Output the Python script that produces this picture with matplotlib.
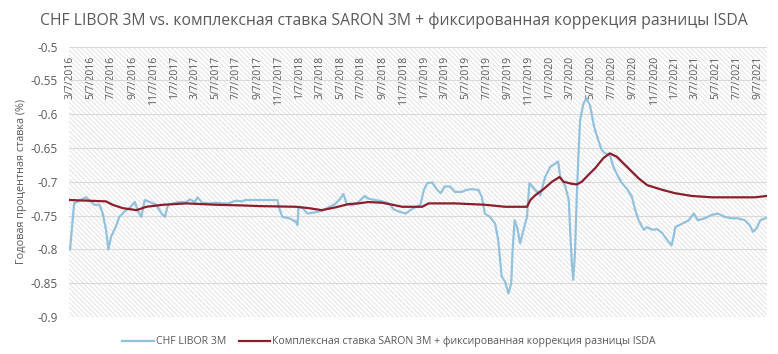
import pandas as pd
import matplotlib
matplotlib.use('Agg')
from matplotlib import pyplot as plt
from matplotlib.patches import Rectangle

# CHF LIBOR 3M
libor_dates = ['2016-03-08', '2016-03-20', '2016-04-24', '2016-05-18', '2016-06-02', '2016-06-11',
               '2016-06-21', '2016-06-28', '2016-07-06', '2016-07-20', '2016-07-30', '2016-08-14',
               '2016-08-28', '2016-09-13', '2016-09-23', '2016-10-02', '2016-10-12', '2016-10-27',
               '2016-11-15', '2016-11-30', '2016-12-10', '2016-12-19', '2017-01-03', '2017-01-17',
               '2017-02-11', '2017-02-21', '2017-03-07', '2017-03-15', '2017-03-29', '2017-04-23',
               '2017-05-07', '2017-05-27', '2017-06-13', '2017-07-05', '2017-07-24', '2017-08-02',
               '2017-09-16', '2017-11-04', '2017-11-07', '2017-11-18', '2017-12-08', '2017-12-27',
               '2018-01-01', '2018-01-04', '2018-01-16', '2018-01-30', '2018-02-24', '2018-03-13',
               '2018-04-01', '2018-04-21', '2018-05-06', '2018-05-15', '2018-05-25', '2018-06-09',
               '2018-06-28', '2018-07-16', '2018-07-27', '2018-08-16', '2018-09-05', '2018-09-25',
               '2018-10-09', '2018-10-24', '2018-11-13', '2018-12-02', '2018-12-26', '2019-01-05',
               '2019-01-15', '2019-01-29', '2019-02-13', '2019-02-23', '2019-03-07', '2019-03-22',
               '2019-04-06', '2019-04-25', '2019-05-10', '2019-05-24', '2019-06-13', '2019-06-23',
               '2019-07-02', '2019-07-17', '2019-08-01', '2019-08-10', '2019-08-20', '2019-08-30',
               '2019-09-09', '2019-09-17', '2019-09-21', '2019-09-27', '2019-10-04', '2019-10-13',
               '2019-10-23', '2019-11-02', '2019-11-09', '2019-11-17', '2019-11-26', '2019-12-11',
               '2019-12-25', '2020-01-09', '2020-01-24', '2020-02-01', '2020-02-07', '2020-02-22',
               '2020-03-03', '2020-03-07', '2020-03-12', '2020-03-16', '2020-03-21', '2020-03-26',
               '2020-03-31', '2020-04-05', '2020-04-15', '2020-04-24', '2020-05-04', '2020-05-14',
               '2020-05-19', '2020-05-28', '2020-06-07', '2020-06-17', '2020-07-01', '2020-07-11',
               '2020-07-26', '2020-08-05', '2020-08-19', '2020-09-03', '2020-09-13', '2020-09-23',
               '2020-10-08', '2020-10-18', '2020-11-01', '2020-11-16', '2020-12-01', '2020-12-15',
               '2020-12-28', '2021-01-03', '2021-01-08', '2021-01-28', '2021-02-16', '2021-03-03',
               '2021-03-15', '2021-04-04', '2021-04-24', '2021-05-13', '2021-06-01', '2021-06-21',
               '2021-07-10', '2021-07-30', '2021-08-13', '2021-08-23', '2021-09-02', '2021-09-13',
               '2021-10-02']
libor_values = [-0.800, -0.732, -0.723, -0.734, -0.734, -0.746,
                -0.771, -0.800, -0.781, -0.766, -0.752, -0.744,
                -0.739, -0.730, -0.744, -0.752, -0.727, -0.730,
                -0.734, -0.747, -0.752, -0.734, -0.732, -0.730,
                -0.730, -0.726, -0.730, -0.723, -0.731, -0.732,
                -0.731, -0.732, -0.732, -0.728, -0.729, -0.727,
                -0.727, -0.727, -0.737, -0.752, -0.754, -0.759,
                -0.764, -0.737, -0.739, -0.747, -0.745, -0.743,
                -0.738, -0.733, -0.725, -0.718, -0.733, -0.735,
                -0.730, -0.721, -0.725, -0.727, -0.729, -0.732,
                -0.741, -0.744, -0.747, -0.740, -0.734, -0.712,
                -0.702, -0.701, -0.712, -0.717, -0.707, -0.707,
                -0.715, -0.715, -0.712, -0.711, -0.712, -0.722,
                -0.747, -0.752, -0.762, -0.786, -0.840, -0.848,
                -0.865, -0.850, -0.801, -0.757, -0.767, -0.791,
                -0.771, -0.752, -0.702, -0.707, -0.712, -0.720,
                -0.693, -0.678, -0.673, -0.670, -0.693, -0.707,
                -0.727, -0.771, -0.821, -0.845, -0.806, -0.727,
                -0.663, -0.609, -0.584, -0.577, -0.587, -0.614,
                -0.624, -0.638, -0.653, -0.658, -0.660, -0.678,
                -0.693, -0.702, -0.710, -0.722, -0.742, -0.757,
                -0.771, -0.767, -0.771, -0.770, -0.776, -0.786,
                -0.794, -0.781, -0.767, -0.762, -0.757, -0.747,
                -0.757, -0.754, -0.749, -0.747, -0.752, -0.754,
                -0.754, -0.757, -0.764, -0.774, -0.769, -0.757,
                -0.753]

# SARON 3M compounded + ISDA spread
saron_dates = ['2016-03-07', '2016-06-21', '2016-07-10', '2016-08-09', '2016-09-18', '2016-10-17',
               '2016-12-05', '2017-02-11', '2017-05-07', '2017-07-24', '2017-09-11', '2017-12-27',
               '2018-02-03', '2018-03-13', '2018-04-21', '2018-05-30', '2018-06-28', '2018-07-27',
               '2018-09-05', '2018-10-05', '2018-11-03', '2018-12-31', '2019-01-19', '2019-04-06',
               '2019-07-02', '2019-08-30', '2019-11-02', '2019-11-12', '2019-11-26', '2019-12-20',
               '2020-01-14', '2020-02-05', '2020-02-17', '2020-03-12', '2020-03-26', '2020-04-10',
               '2020-04-29', '2020-05-19', '2020-06-12', '2020-07-01', '2020-07-21', '2020-08-24',
               '2020-09-23', '2020-10-18', '2020-12-01', '2021-01-08', '2021-02-25', '2021-04-24',
               '2021-07-01', '2021-08-28', '2021-10-02']
saron_values = [-0.727, -0.729, -0.734, -0.739, -0.742, -0.737,
                -0.734, -0.732, -0.734, -0.735, -0.736, -0.737,
                -0.739, -0.742, -0.738, -0.733, -0.732, -0.730,
                -0.731, -0.734, -0.737, -0.737, -0.732, -0.732,
                -0.734, -0.737, -0.737, -0.727, -0.720, -0.711,
                -0.700, -0.693, -0.700, -0.703, -0.704, -0.700,
                -0.690, -0.680, -0.665, -0.658, -0.663, -0.680,
                -0.695, -0.705, -0.712, -0.717, -0.721, -0.723,
                -0.723, -0.723, -0.721]

tick_dates = ['2016-03-07', '2016-05-07', '2016-07-07', '2016-09-07', '2016-11-07',
              '2017-01-07', '2017-03-07', '2017-05-07', '2017-07-07', '2017-09-07', '2017-11-07',
              '2018-01-07', '2018-03-07', '2018-05-07', '2018-07-07', '2018-09-07', '2018-11-07',
              '2019-01-07', '2019-03-07', '2019-05-07', '2019-07-07', '2019-09-07', '2019-11-07',
              '2020-01-07', '2020-03-07', '2020-05-07', '2020-07-07', '2020-09-07', '2020-11-07',
              '2021-01-07', '2021-03-07', '2021-05-07', '2021-07-07', '2021-09-07']
tick_labels = ['3/7/2016', '5/7/2016', '7/7/2016', '9/7/2016', '11/7/2016',
               '1/7/2017', '3/7/2017', '5/7/2017', '7/7/2017', '9/7/2017', '11/7/2017',
               '1/7/2018', '3/7/2018', '5/7/2018', '7/7/2018', '9/7/2018', '11/7/2018',
               '1/7/2019', '3/7/2019', '5/7/2019', '7/7/2019', '9/7/2019', '11/7/2019',
               '1/7/2020', '3/7/2020', '5/7/2020', '7/7/2020', '9/7/2020', '11/7/2020',
               '1/7/2021', '3/7/2021', '5/7/2021', '7/7/2021', '9/7/2021']
y_ticks = [-0.5, -0.55, -0.6, -0.65, -0.7, -0.75, -0.8, -0.85, -0.9]

plt.rcParams['font.family'] = ['Open Sans', 'DejaVu Sans']
plt.rcParams['hatch.color'] = '#dadada'
plt.rcParams['hatch.linewidth'] = 0.5
grey = '#595959'

fig = plt.figure(figsize=(7.78, 3.54), dpi=100)
ax = fig.add_axes([0.0887, 0.1045, 0.8973, 0.7641])

# hatched plot area background
ax.add_patch(Rectangle((0, 0), 1, 1, transform=ax.transAxes, facecolor='white',
                       edgecolor='#dadada', hatch='\\\\\\\\\\\\\\', linewidth=0, zorder=0))

ax.plot(pd.to_datetime(libor_dates), libor_values, color='#92c1dc', lw=1.6,
        label='CHF LIBOR 3M', zorder=3)
ax.plot(pd.to_datetime(saron_dates), saron_values, color='#8b1e2c', lw=1.6,
        label='Комплексная ставка SARON 3M + фиксированная коррекция разницы ISDA', zorder=4)

ax.set_ylim(-0.9, -0.5)
ax.set_xlim(pd.Timestamp('2016-03-05'), pd.Timestamp('2021-10-03'))
ax.set_yticks(y_ticks)
ax.set_yticklabels([f'{v:g}' for v in y_ticks])
ax.yaxis.grid(True, color='#d9d9d9', lw=0.8, zorder=1)
ax.set_axisbelow(True)
for s in ax.spines.values():
    s.set_visible(False)
ax.tick_params(axis='y', length=0, labelsize=8.5, labelcolor=grey, pad=8)

ax.set_xticks(pd.to_datetime(tick_dates))
ax.set_xticklabels(tick_labels, rotation=90)
ax.tick_params(axis='x', length=0, labelsize=7.5, labelcolor=grey,
               top=False, bottom=False, labeltop=True, labelbottom=False, pad=-7)
for lbl in ax.get_xticklabels():
    lbl.set_va('top')

ax.set_ylabel('Годовая процентная ставка (%)', fontsize=7.8, color=grey, labelpad=3)

fig.suptitle('CHF LIBOR 3M vs. комплексная ставка SARON 3M + фиксированная коррекция разницы ISDA',
             x=0.506, y=0.965, fontsize=11.3, color=grey)

fig.legend(loc='lower center', bbox_to_anchor=(0.5, -0.008), ncol=2, frameon=False,
           fontsize=7.6, labelcolor=grey, handlelength=3.0, columnspacing=1.2, handletextpad=0.2)

fig.savefig('out.png', dpi=100)
